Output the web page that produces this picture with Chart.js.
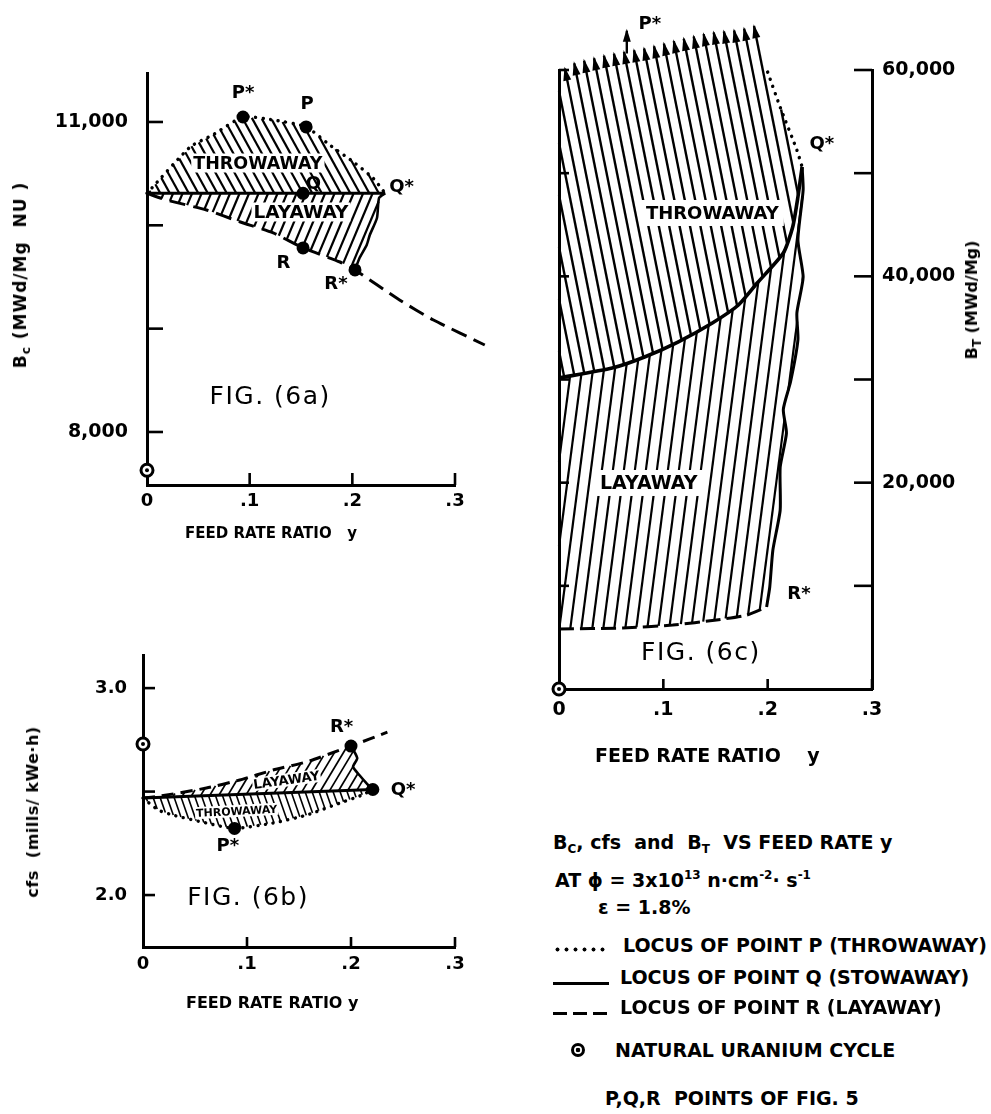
<!DOCTYPE html>
<html>
<head>
<meta charset="utf-8">
<title>Bc, cfs and BT vs feed rate y</title>
<script src="https://cdn.jsdelivr.net/npm/chart.js@4.4.1/dist/chart.umd.min.js"></script>
<style>
  html, body { margin: 0; padding: 0; background: #fff; }
  body { position: relative; width: 991px; height: 1114px; overflow: hidden;
         font-family: "DejaVu Sans", sans-serif; font-weight: bold; color: #000; }
  canvas { position: absolute; }
  .t { position: absolute; white-space: pre; line-height: 22px; font-size: 19px; }
  .rot { position: absolute; white-space: pre; line-height: 22px; transform: translate(-50%, -50%) rotate(-90deg); }
  sub, sup { font-size: 12px; line-height: 0; }
  sub { vertical-align: -4px; }
  sup { vertical-align: 8px; }
  .sample { position: absolute; }
</style>
</head>
<body>
<canvas id="figA" width="500" height="530" style="left:0;top:40px"></canvas>
<canvas id="figB" width="500" height="400" style="left:0;top:620px"></canvas>
<canvas id="figC" width="471" height="800" style="left:520px;top:0"></canvas>

<!-- axis titles -->
<div class="rot" style="left:20px;top:275px;font-size:17px;letter-spacing:1px">B<sub>c</sub> (MWd/Mg&nbsp; NU )</div>
<div class="t" style="left:185px;top:522px;font-size:15px">FEED RATE RATIO   y</div>
<div class="rot" style="left:33px;top:812px;font-size:16px;letter-spacing:0.5px">cfs&nbsp; (mills/ kWe·h)</div>
<div class="t" style="left:186px;top:992px;font-size:16px">FEED RATE RATIO y</div>
<div class="rot" style="left:972px;top:300px;font-size:16px">B<sub>T</sub> (MWd/Mg)</div>
<div class="t" style="left:595px;top:744px;font-size:19px">FEED RATE RATIO    y</div>

<!-- key -->
<div class="t" style="left:553px;top:831px">B<sub>C</sub>, cfs  and  B<sub>T</sub>  VS FEED RATE y</div>
<div class="t" style="left:555px;top:869px">AT ϕ = 3x10<sup>13</sup> n·cm<sup>-2</sup>· s<sup>-1</sup></div>
<div class="t" style="left:598px;top:896px">ε = 1.8%</div>
<div class="sample" style="left:553px;top:947px;width:54px;height:5px;background:radial-gradient(circle, #000 1.7px, transparent 2.3px) 0 0/9px 5px repeat-x"></div>
<div class="t" style="left:623px;top:934px">LOCUS OF POINT P (THROWAWAY)</div>
<div class="sample" style="left:553px;top:982px;width:56px;height:3px;background:#000"></div>
<div class="t" style="left:620px;top:966px">LOCUS OF POINT Q (STOWAWAY)</div>
<div class="sample" style="left:553px;top:1012px;width:56px;height:3px;background:repeating-linear-gradient(90deg, #000 0 14px, transparent 14px 20px)"></div>
<div class="t" style="left:620px;top:996px">LOCUS OF POINT R (LAYAWAY)</div>
<div class="sample" style="left:571px;top:1043px;width:14px;height:14px;box-sizing:border-box;border:3px solid #000;border-radius:50%;background:radial-gradient(circle, #000 2px, transparent 2.6px)"></div>
<div class="t" style="left:615px;top:1039px">NATURAL URANIUM CYCLE</div>
<div class="t" style="left:605px;top:1087px">P,Q,R  POINTS OF FIG. 5</div>

<script>
// ---------- feed-rate axis (shared by all three panels) ----------
const feedTicks = [0, 0.1, 0.2, 0.3];
const feedTickLabels = ['0', '.1', '.2', '.3'];

// ---------- Fig. 6a : Bc (MWd/Mg NU) ----------
const bcTicks = [8000, 9000, 10000, 11000];
const bcTickLabels = ['8,000', '', '', '11,000'];
const bcLocusPX = [0, 0.042, 0.064, 0.0935, 0.123, 0.155, 0.178, 0.201, 0.22, 0.232];
const bcLocusPY = [10310, 10758, 10874, 11048, 11019, 10952, 10777, 10613, 10458, 10310];
const bcLocusQX = [0, 0.232];
const bcLocusQY = [10310, 10310];
const bcLocusRX = [0, 0.019, 0.058, 0.091, 0.123, 0.152, 0.188, 0.2026, 0.246, 0.279, 0.329];
const bcLocusRY = [10310, 10245, 10148, 10032, 9926, 9781, 9645, 9568, 9277, 9084, 8842];
const bcEdgeX = [0.232, 0.226, 0.224, 0.217, 0.214, 0.207, 0.2026];   // Q* down to R*
const bcEdgeY = [10310, 10264, 10071, 9906, 9810, 9684, 9568];
const bcPointNames = ['P*', 'P', 'Q', 'R', 'R*'];
const bcPointX = [0.0935, 0.155, 0.152, 0.152, 0.2026];
const bcPointY = [11048, 10952, 10310, 9781, 9568];
const bcNaturalU = 7630;

// ---------- Fig. 6b : cfs (mills/kWe·h) ----------
const cfsTicks = [2.0, 2.5, 3.0];
const cfsTickLabels = ['2.0', '', '3.0'];
const cfsLocusPX = [0, 0.015, 0.03, 0.061, 0.088, 0.125, 0.157, 0.189, 0.209, 0.221];
const cfsLocusPY = [2.469, 2.41, 2.385, 2.348, 2.322, 2.348, 2.386, 2.444, 2.48, 2.51];
const cfsLocusQX = [0, 0.221];
const cfsLocusQY = [2.469, 2.51];
const cfsLocusRX = [0, 0.016, 0.061, 0.093, 0.125, 0.157, 0.189, 0.2, 0.235];
const cfsLocusRY = [2.469, 2.478, 2.517, 2.556, 2.604, 2.643, 2.70, 2.72, 2.787];
const cfsEdgeX = [0.2, 0.206, 0.202, 0.208, 0.215, 0.221];           // R* down to Q*
const cfsEdgeY = [2.72, 2.662, 2.62, 2.58, 2.54, 2.51];
const cfsPointNames = ['R*', 'Q*', 'P*'];
const cfsPointX = [0.2, 0.221, 0.088];
const cfsPointY = [2.72, 2.51, 2.322];
const cfsNaturalU = 2.73;

// ---------- Fig. 6c : BT (MWd/Mg) ----------
const btTicks = [0, 10000, 20000, 30000, 40000, 50000, 60000];
const btTickLabels = ['', '', '20,000', '', '40,000', '', '60,000'];
const btLocusQX = [0, 0.051, 0.082, 0.114, 0.147, 0.172, 0.19, 0.215, 0.224, 0.229, 0.233];
const btLocusQY = [30150, 31110, 32180, 33630, 35480, 37220, 39350, 42260, 44780, 47690, 50600];
const btLocusPX = [0.2, 0.212, 0.228, 0.233];                         // on-scale part of P locus
const btLocusPY = [59800, 56400, 52240, 50600];
const btOffScaleX = [0, 0.015, 0.046, 0.084, 0.114, 0.143, 0.172, 0.191]; // arrow tips, P off scale
const btOffScaleY = [59800, 60680, 61450, 62130, 62900, 63580, 63870, 64360];
const btLocusRX = [0, 0.061, 0.109, 0.151, 0.18, 0.199];
const btLocusRY = [5815, 5910, 6200, 6690, 7170, 7950];
const btEdgeX = [0.233, 0.234, 0.229, 0.234, 0.228, 0.229, 0.222, 0.215, 0.218, 0.212, 0.212, 0.205, 0.202, 0.199];
const btEdgeY = [50600, 48370, 43520, 39930, 36440, 33830, 29800, 27100, 24800, 21500, 17350, 13470, 9890, 7950];
const btPStarX = [0.065, 0.065];
const btPStarY = [61600, 63800];
const btNaturalU = 0;

// ---------- helpers ----------
const FONT = 'DejaVu Sans';
const pts = (xs, ys) => xs.map((x, i) => ({ x, y: ys[i] }));
const rev = a => a.slice().reverse();

function feedAxis(h, pad, size) {
  return {
    type: 'linear', position: 'bottom', min: 0, max: 0.3,
    afterBuildTicks: s => { s.ticks = feedTicks.map(v => ({ value: v })); },
    afterFit: s => { s.height = h; },
    grid: { display: false, drawTicks: false },
    border: { display: true, color: '#000', width: 3 },
    ticks: { padding: pad, color: '#000', autoSkip: false, maxRotation: 0,
             font: { family: FONT, size: size, weight: 'bold' },
             callback: (v, i) => feedTickLabels[i] }
  };
}
function valueAxis(o) {
  return {
    type: 'linear', position: o.position, min: o.min, max: o.max,
    afterBuildTicks: s => { s.ticks = o.ticks.map(v => ({ value: v })); },
    afterFit: s => { s.width = o.w; },
    grid: { display: false, drawTicks: false },
    border: { display: true, color: '#000', width: 3 },
    ticks: { display: !!o.labels, padding: o.pad || 0, color: '#000', autoSkip: false,
             font: { family: FONT, size: o.size || 19, weight: 'bold' },
             callback: (v, i) => (o.labels ? o.labels[i] : '') }
  };
}
function lineDs(data, kind, yAxisID) {
  const ds = { data, showLine: true, pointRadius: 0, borderColor: '#000', fill: false,
               clip: false, yAxisID: yAxisID || 'y', tension: 0.2, borderWidth: 3 };
  if (kind === 'dot') Object.assign(ds, { borderDash: [0.1, 7.5], borderCapStyle: 'round', borderWidth: 3.4 });
  if (kind === 'dash') Object.assign(ds, { borderDash: [16, 8] });
  if (kind === 'edge') Object.assign(ds, { borderWidth: 2.6 });
  return ds;
}
function dotDs(data, r, yAxisID) {
  return { data, showLine: false, pointRadius: r, pointBackgroundColor: '#000',
           pointBorderColor: '#000', pointBorderWidth: 0, clip: false, yAxisID: yAxisID || 'y' };
}
// natural-uranium marker: centre dot listed first so it is painted over the ring
function natUDs(y, yAxisID) {
  return [
    dotDs([{ x: 0, y }], 2, yAxisID),
    { data: [{ x: 0, y }], showLine: false, pointRadius: 6, pointBackgroundColor: '#fff',
      pointBorderColor: '#000', pointBorderWidth: 3, clip: false, yAxisID: yAxisID || 'y' }
  ];
}

// parallel hatching inside a closed polygon given in pixel space
function drawHatch(ctx, P, r) {
  const L = Math.hypot(r.slant, 1);
  const d = [r.slant / L, 1 / L];
  const n = [-d[1], d[0]];
  const sp = r.spacing / L;
  const proj = P.map(p => p[0] * n[0] + p[1] * n[1]);
  const lo = Math.min(...proj), hi = Math.max(...proj);
  ctx.save();
  ctx.strokeStyle = '#000'; ctx.fillStyle = '#000';
  ctx.lineWidth = r.width; ctx.lineCap = 'butt';
  for (let c = Math.ceil(lo / sp) * sp + (r.phase || 0); c <= hi; c += sp) {
    const hits = [];
    for (let i = 0; i < P.length; i++) {
      const j = (i + 1) % P.length;
      const sa = proj[i] - c, sb = proj[j] - c;
      if ((sa < 0) !== (sb < 0)) {
        const f = sa / (sa - sb);
        const x = P[i][0] + (P[j][0] - P[i][0]) * f;
        const y = P[i][1] + (P[j][1] - P[i][1]) * f;
        hits.push({ t: x * d[0] + y * d[1], e: i });
      }
    }
    hits.sort((a, b) => a.t - b.t);
    for (let k = 0; k + 1 < hits.length; k += 2) {
      const a = hits[k], b = hits[k + 1];
      const ax = c * n[0] + a.t * d[0], ay = c * n[1] + a.t * d[1];
      const bx = c * n[0] + b.t * d[0], by = c * n[1] + b.t * d[1];
      ctx.beginPath(); ctx.moveTo(ax, ay); ctx.lineTo(bx, by); ctx.stroke();
      if (r.arrowEdges && a.e >= r.arrowEdges[0] && a.e <= r.arrowEdges[1]) {
        const len = 12, half = 4;
        ctx.beginPath();
        ctx.moveTo(ax - d[0] * 2, ay - d[1] * 2);
        ctx.lineTo(ax + d[0] * len + n[0] * half, ay + d[1] * len + n[1] * half);
        ctx.lineTo(ax + d[0] * len - n[0] * half, ay + d[1] * len - n[1] * half);
        ctx.closePath(); ctx.fill();
      }
    }
  }
  ctx.restore();
}

const hatchPlugin = {
  id: 'hatch',
  beforeDatasetsDraw(chart, args, opts) {
    (opts.regions || []).forEach(r => {
      const xs = chart.scales.x, ys = chart.scales[r.yAxis || 'y'];
      const P = r.poly.map(p => [xs.getPixelForValue(p.x), ys.getPixelForValue(p.y)]);
      drawHatch(chart.ctx, P, r);
    });
  }
};

const notesPlugin = {
  id: 'notes',
  afterDatasetsDraw(chart, args, opts) {
    const ctx = chart.ctx;
    (opts.arrows || []).forEach(a => {
      const xs = chart.scales.x, ys = chart.scales[a.yAxis || 'y'];
      const px = xs.getPixelForValue(a.x), py = ys.getPixelForValue(a.y);
      ctx.save(); ctx.fillStyle = '#000';
      ctx.beginPath(); ctx.moveTo(px, py - 2); ctx.lineTo(px + 4, py + 11); ctx.lineTo(px - 4, py + 11);
      ctx.closePath(); ctx.fill(); ctx.restore();
    });
    (opts.items || []).forEach(it => {
      const xs = chart.scales.x, ys = chart.scales[it.yAxis || 'y'];
      const px = xs.getPixelForValue(it.x), py = ys.getPixelForValue(it.y);
      ctx.save();
      ctx.translate(px, py);
      if (it.rot) ctx.rotate(it.rot * Math.PI / 180);
      ctx.font = it.font || ('bold 18px "' + FONT + '"');
      if ('letterSpacing' in ctx) ctx.letterSpacing = it.ls || '0px';
      ctx.textAlign = 'center'; ctx.textBaseline = 'middle';
      if (it.bg !== undefined) {
        const w = ctx.measureText(it.text).width;
        const h = it.h || 16;
        ctx.fillStyle = '#fff';
        ctx.fillRect(-w / 2 - it.bg, -h / 2 - it.bg, w + 2 * it.bg, h + 2 * it.bg);
      }
      ctx.fillStyle = '#000';
      ctx.fillText(it.text, 0, 1);
      ctx.restore();
    });
  }
};

// tick marks drawn on the inside of each axis
const inTicksPlugin = {
  id: 'inTicks',
  afterDraw(chart, args, opts) {
    const ctx = chart.ctx;
    ctx.save(); ctx.strokeStyle = '#000'; ctx.lineCap = 'butt';
    (opts.list || []).forEach(t => {
      const s = chart.scales[t.scale];
      ctx.lineWidth = t.width || 2.6;
      s.ticks.forEach(tk => {
        if (tk.value === s.min) return;
        const p = s.getPixelForValue(tk.value);
        ctx.beginPath();
        if (s.isHorizontal()) { ctx.moveTo(p, s.top); ctx.lineTo(p, s.top - t.len); }
        else if (s.position === 'left') { ctx.moveTo(s.right, p); ctx.lineTo(s.right + t.len, p); }
        else { ctx.moveTo(s.left, p); ctx.lineTo(s.left - t.len, p); }
        ctx.stroke();
      });
    });
    ctx.restore();
  }
};

const baseOptions = (extra) => Object.assign({
  responsive: false, animation: false, events: [],
  plugins: {}
}, extra);
const common = { legend: { display: false }, tooltip: { enabled: false } };
const figFont = '25px "' + FONT + '"';

// ---------- Fig. 6a ----------
{
  const P = pts(bcLocusPX, bcLocusPY), Q = pts(bcLocusQX, bcLocusQY), R = pts(bcLocusRX, bcLocusRY);
  const E = pts(bcEdgeX, bcEdgeY);
  const rStar = bcPointX[4];
  const Rin = R.filter(p => p.x <= rStar + 1e-9);
  const marks = pts(bcPointX, bcPointY);
  new Chart(document.getElementById('figA'), {
    type: 'scatter',
    data: { datasets: [
      dotDs(marks, 6.5), ...natUDs(bcNaturalU),
      lineDs(P, 'dot'), lineDs(Q, 'solid'), lineDs(R, 'dash'), lineDs(E, 'edge')
    ] },
    options: baseOptions({
      layout: { padding: { left: 0, top: 33, right: 45, bottom: 0 } },
      scales: {
        x: feedAxis(85, 6, 18),
        y: valueAxis({ position: 'left', min: 7487, max: 11474, ticks: bcTicks, labels: bcTickLabels, w: 147, pad: 19, size: 19 })
      },
      plugins: Object.assign({}, common, {
        hatch: { regions: [
          { poly: [...P, ...rev(Q)], slant: 0.55, spacing: 9.5, width: 2.2 },
          { poly: [...Q, ...E, ...rev(Rin)], slant: -0.42, spacing: 9.5, width: 2.2 }
        ] },
        notes: { items: [
          { text: bcPointNames[0], x: 0.0935, y: 11290 },
          { text: bcPointNames[1], x: 0.156, y: 11184 },
          { text: bcPointNames[2], x: 0.162, y: 10410 },
          { text: 'Q*', x: 0.248, y: 10381 },
          { text: bcPointNames[3], x: 0.133, y: 9645 },
          { text: bcPointNames[4], x: 0.184, y: 9442 },
          { text: 'THROWAWAY', x: 0.108, y: 10603, bg: 2, h: 15, font: 'bold 17.5px "' + FONT + '"' },
          { text: 'LAYAWAY', x: 0.15, y: 10129, bg: 2, h: 15, font: 'bold 18.5px "' + FONT + '"' },
          { text: 'FIG. (6a)', x: 0.12, y: 8339, font: figFont, ls: '1.5px' }
        ] },
        inTicks: { list: [ { scale: 'x', len: 12 }, { scale: 'y', len: 16 } ] }
      })
    }),
    plugins: [hatchPlugin, notesPlugin, inTicksPlugin]
  });
}

// ---------- Fig. 6b ----------
{
  const P = pts(cfsLocusPX, cfsLocusPY), Q = pts(cfsLocusQX, cfsLocusQY), R = pts(cfsLocusRX, cfsLocusRY);
  const E = pts(cfsEdgeX, cfsEdgeY);
  const rStar = cfsPointX[0];
  const Rin = R.filter(p => p.x <= rStar + 1e-9);
  const marks = pts(cfsPointX, cfsPointY);
  new Chart(document.getElementById('figB'), {
    type: 'scatter',
    data: { datasets: [
      dotDs(marks, 6.5), ...natUDs(cfsNaturalU),
      lineDs(P, 'dot'), lineDs(Q, 'solid'), Object.assign(lineDs(R, 'dash'), { borderDash: [12, 7] }),
      lineDs(E, 'edge')
    ] },
    options: baseOptions({
      layout: { padding: { left: 0, top: 35, right: 45, bottom: 0 } },
      scales: {
        x: feedAxis(73, 7, 18),
        y: valueAxis({ position: 'left', min: 1.749, max: 3.16, ticks: cfsTicks, labels: cfsTickLabels, w: 143, pad: 16, size: 18 })
      },
      plugins: Object.assign({}, common, {
        hatch: { regions: [
          { poly: [...P, ...rev(Q)], slant: 0.35, spacing: 7, width: 1.6 },
          { poly: [...Q, ...rev(E), ...rev(Rin)], slant: -0.6, spacing: 9, width: 1.7 }
        ] },
        notes: { items: [
          { text: cfsPointNames[0], x: 0.191, y: 2.816 },
          { text: cfsPointNames[1], x: 0.25, y: 2.512 },
          { text: cfsPointNames[2], x: 0.0815, y: 2.242 },
          { text: 'LAYAWAY', x: 0.138, y: 2.556, rot: -8, bg: 1, h: 11, font: 'bold 13px "' + FONT + '"' },
          { text: 'THROWAWAY', x: 0.09, y: 2.406, rot: -3, bg: 1, h: 10, font: 'bold 11px "' + FONT + '"' },
          { text: 'FIG. (6b)', x: 0.101, y: 1.99, font: figFont, ls: '1.5px' }
        ] },
        inTicks: { list: [ { scale: 'x', len: 10 }, { scale: 'y', len: 12 } ] }
      })
    }),
    plugins: [hatchPlugin, notesPlugin, inTicksPlugin]
  });
}

// ---------- Fig. 6c ----------
{
  const Q = pts(btLocusQX, btLocusQY), P = pts(btLocusPX, btLocusPY), R = pts(btLocusRX, btLocusRY);
  const T = pts(btOffScaleX, btOffScaleY), E = pts(btEdgeX, btEdgeY);
  const pStar = pts(btPStarX, btPStarY);
  new Chart(document.getElementById('figC'), {
    type: 'scatter',
    data: { datasets: [
      ...natUDs(btNaturalU),
      Object.assign(lineDs(Q, 'solid'), { borderWidth: 3.6 }),
      lineDs(P, 'dot'),
      Object.assign(lineDs(R, 'dash'), { borderDash: [15, 6], borderWidth: 3 }),
      Object.assign(lineDs(E, 'edge'), { borderWidth: 3 }),
      Object.assign(lineDs(pStar, 'solid'), { borderWidth: 2.4, tension: 0 })
    ] },
    options: baseOptions({
      layout: { padding: { left: 0, top: 70, right: 0, bottom: 0 } },
      scales: {
        x: feedAxis(111, 10, 19),
        yl: valueAxis({ position: 'left', min: 0, max: 60000, ticks: btTicks, labels: null, w: 39 }),
        y: valueAxis({ position: 'right', min: 0, max: 60000, ticks: btTicks, labels: btTickLabels, w: 119, pad: 10, size: 19 })
      },
      plugins: Object.assign({}, common, {
        hatch: { regions: [
          { poly: [...T, ...P, ...rev(Q)], slant: 0.2, spacing: 10.4, width: 2.4, arrowEdges: [0, T.length - 2] },
          { poly: [...Q, ...E, ...rev(R)], slant: -0.13, spacing: 11, width: 2.2 }
        ] },
        notes: {
          arrows: [ { x: btPStarX[1], y: btPStarY[1] } ],
          items: [
            { text: 'P*', x: 0.087, y: 64550 },
            { text: 'Q*', x: 0.252, y: 52920 },
            { text: 'R*', x: 0.23, y: 9305 },
            { text: 'THROWAWAY', x: 0.147, y: 46140, bg: 5, h: 16, font: 'bold 18px "' + FONT + '"' },
            { text: 'LAYAWAY', x: 0.086, y: 19970, bg: 5, h: 16, font: 'bold 19px "' + FONT + '"' },
            { text: 'FIG. (6c)', x: 0.136, y: 3490, bg: 3, h: 22, font: figFont, ls: '1.5px' }
          ] },
        inTicks: { list: [ { scale: 'x', len: 10 }, { scale: 'yl', len: 10 }, { scale: 'y', len: 18 } ] }
      })
    }),
    plugins: [hatchPlugin, notesPlugin, inTicksPlugin]
  });
}
</script>
</body>
</html>
